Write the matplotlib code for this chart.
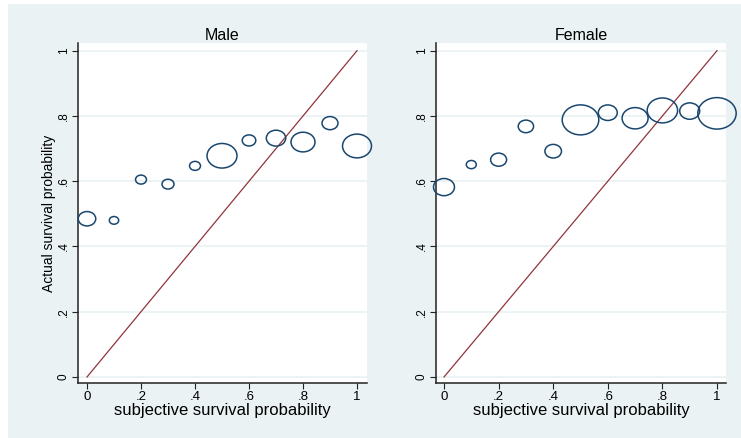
import numpy as np
import matplotlib
matplotlib.use('Agg')
import matplotlib.pyplot as plt
import matplotlib.ticker as mticker
from matplotlib.path import Path
from matplotlib.patches import Rectangle

plt.rcParams['font.family'] = ['Liberation Sans', 'DejaVu Sans']

# ==================== data ====================
subj_prob = [0.0, 0.1, 0.2, 0.3, 0.4, 0.5, 0.6, 0.7, 0.8, 0.9, 1.0]

male_actual = [0.485, 0.480, 0.605, 0.591, 0.647, 0.678, 0.725, 0.732, 0.720, 0.778, 0.708]
male_n = [77, 22, 30, 36, 30, 225, 46, 94, 144, 64, 210]

female_actual = [0.582, 0.651, 0.666, 0.768, 0.692, 0.788, 0.810, 0.793, 0.817, 0.815, 0.808]
female_n = [110, 25, 64, 59, 69, 335, 90, 169, 231, 100, 369]

panels = ['Male', 'Female']
ticks = [0, 0.2, 0.4, 0.6, 0.8, 1.0]
diag = [0, 1]

# ==================== style ====================
bg = '#EAF2F3'
navy = '#1A476F'
maroon = '#90353B'

# circles in the original are slightly squashed
uc = Path.unit_circle()
ell = Path(uc.vertices * np.array([1.0, 0.82]), uc.codes)

fig = plt.figure(figsize=(7.41, 4.38), dpi=100)
fig.patch.set_facecolor('white')
fig.patches.append(Rectangle((8 / 741, 0), 1, 1 - 4 / 438, transform=fig.transFigure,
                             facecolor=bg, edgecolor='none', zorder=-10))

boxes = [[78 / 741, 55 / 438, 289 / 741, 340 / 438],
         [436 / 741, 55 / 438, 290 / 741, 340 / 438]]
xlims = [(-0.0333, 1.037), (-0.0293, 1.033)]
series = [(male_actual, male_n), (female_actual, female_n)]


def fmt(v, pos):
    if abs(v) < 1e-9:
        return '0'
    if abs(v - 1) < 1e-9:
        return '1'
    return f'{v:.1f}'.lstrip('0')


for i, name in enumerate(panels):
    ax = fig.add_axes(boxes[i])
    ax.set_facecolor('white')
    actual, n = series[i]

    ax.plot(diag, diag, color=maroon, linewidth=0.9, zorder=2)
    ax.scatter(subj_prob, actual, s=np.array(n) * 2.07, marker=ell,
               facecolors='none', edgecolors=navy, linewidths=1.1,
               zorder=3, clip_on=False)

    ax.set_xlim(*xlims[i])
    ax.set_ylim(-0.0184, 1.0236)
    ax.set_xticks(ticks)
    ax.set_yticks(ticks)
    ax.xaxis.set_major_formatter(mticker.FuncFormatter(fmt))
    ax.yaxis.set_major_formatter(mticker.FuncFormatter(fmt))
    ax.yaxis.grid(True, color=bg, linewidth=1.3)
    ax.set_axisbelow(True)

    for side in ['top', 'right']:
        ax.spines[side].set_visible(False)
    for side in ['left', 'bottom']:
        ax.spines[side].set_color('#222222')
        ax.spines[side].set_linewidth(1.1)

    ax.tick_params(axis='x', length=4, width=0.8, pad=2, labelsize=9.5, color='#222222')
    ax.tick_params(axis='y', length=4, width=0.8, pad=2, labelsize=8.5, color='#222222',
                   labelrotation=90)
    for lab in ax.get_yticklabels():
        lab.set_va('center')

    ax.set_title(name, fontsize=11.5, pad=2)
    ax.set_xlabel('subjective survival probability', fontsize=12, labelpad=0)
    if i == 0:
        ax.set_ylabel('Actual survival probability', fontsize=10, labelpad=1)

plt.savefig('out.png', dpi=100)
